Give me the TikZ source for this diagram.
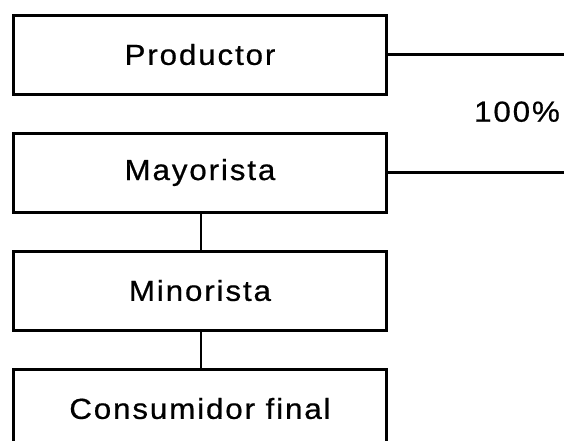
\documentclass[tikz,border=0pt]{standalone}
\usepackage{fontspec}
\setmainfont{Liberation Sans}[LetterSpace=6,FakeBold=0.6]
\newcommand\boxtxt[1]{\scalebox{1.08}[1]{#1}}
\begin{document}
\begin{tikzpicture}[x=1pt,y=-1pt,
  box/.style={draw=black, line width=3pt, minimum width=373pt, minimum height=79pt,
    inner sep=0pt, anchor=north west, font=\fontsize{29}{31}\selectfont},
  link/.style={draw=black, line width=2.2pt},
  lbl/.style={inner sep=0pt, font=\fontsize{29}{31}\selectfont}]
\useasboundingbox (0,0) rectangle (564,440);
\clip (0,0) rectangle (564,440);
\node[box] (p) at (12,13.5) {\boxtxt{Productor}};
\node[box] (m) at (12,131.5) {\boxtxt{Mayorista}};
\node[box] (n) at (12,249.5) {\boxtxt{Minorista}};
\node[box] (c) at (12,367.5) {\boxtxt{Consumidor final}};
\node[lbl] (pct) at (517,111.7) {\boxtxt{100\%}};
\coordinate (rend) at (568,0);
\coordinate (vx) at (201,0);
\draw[link] (p.east) -- (p.east -| rend);
\draw[link] (m.east) -- (m.east -| rend);
\draw[link] (m.south -| vx) -- (n.north -| vx);
\draw[link] (n.south -| vx) -- (c.north -| vx);
\end{tikzpicture}
\end{document}
